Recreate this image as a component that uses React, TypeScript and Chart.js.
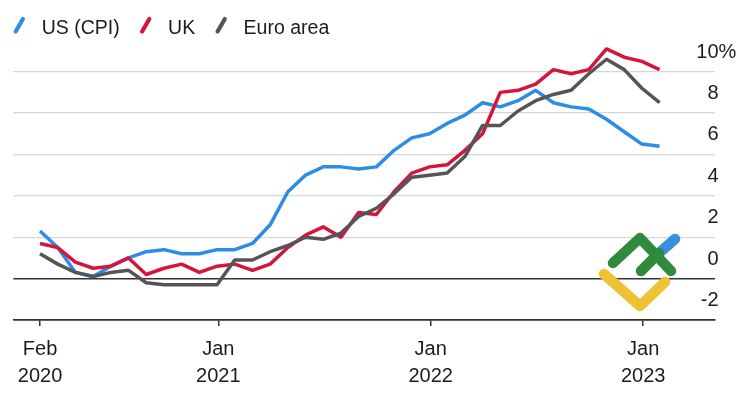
import React, { useEffect, useRef } from "react";
import { Chart, registerables } from "chart.js";

Chart.register(...registerables);

// ---- Data (monthly, year-on-year %, Feb 2020 – Jan 2023) ----
const months = [
  "2020-02", "2020-03", "2020-04", "2020-05", "2020-06", "2020-07", "2020-08", "2020-09", "2020-10", "2020-11", "2020-12",
  "2021-01", "2021-02", "2021-03", "2021-04", "2021-05", "2021-06", "2021-07", "2021-08", "2021-09", "2021-10", "2021-11", "2021-12",
  "2022-01", "2022-02", "2022-03", "2022-04", "2022-05", "2022-06", "2022-07", "2022-08", "2022-09", "2022-10", "2022-11", "2022-12",
  "2023-01",
];

const usCpi = [
  2.3, 1.5, 0.3, 0.1, 0.6, 1.0, 1.3, 1.4, 1.2, 1.2, 1.4,
  1.4, 1.7, 2.6, 4.2, 5.0, 5.4, 5.4, 5.3, 5.4, 6.2, 6.8, 7.0,
  7.5, 7.9, 8.5, 8.3, 8.6, 9.1, 8.5, 8.3, 8.2, 7.7, 7.1, 6.5,
  6.4,
];

const ukCpi = [
  1.7, 1.5, 0.8, 0.5, 0.6, 1.0, 0.2, 0.5, 0.7, 0.3, 0.6,
  0.7, 0.4, 0.7, 1.5, 2.1, 2.5, 2.0, 3.2, 3.1, 4.2, 5.1, 5.4,
  5.5, 6.2, 7.0, 9.0, 9.1, 9.4, 10.1, 9.9, 10.1, 11.1, 10.7, 10.5,
  10.1,
];

const euroArea = [
  1.2, 0.7, 0.3, 0.1, 0.3, 0.4, -0.2, -0.3, -0.3, -0.3, -0.3,
  0.9, 0.9, 1.3, 1.6, 2.0, 1.9, 2.2, 3.0, 3.4, 4.1, 4.9, 5.0,
  5.1, 5.9, 7.4, 7.4, 8.1, 8.6, 8.9, 9.1, 9.9, 10.6, 10.1, 9.2,
  8.5,
];

const seriesNames = ["US (CPI)", "UK", "Euro area"];

const xTickMonths = ["2020-02", "2021-01", "2022-01", "2023-01"];
const xTickLabels = [
  ["Feb", "2020"],
  ["Jan", "2021"],
  ["Jan", "2022"],
  ["Jan", "2023"],
];

const yTickValues = [-2, 0, 2, 4, 6, 8, 10];
const yTickLabels = ["-2", "0", "2", "4", "6", "8", "10"];
const yUnit = "%";

// ---- Styles ----
const FONT = '"Liberation Sans", Arial, Helvetica, sans-serif';
const TEXT = "#1c1c1c";
const AXIS = "#333333";
const GRID = "#d6d6d6";
const COLORS = ["#2b8de6", "#d4163c", "#555555"];
const MONTH_END = 0.93; // observations dated at month end

function monthPos(ym: string, frac: number): number {
  const [y, m] = ym.split("-").map(Number);
  return (y - 2020) * 12 + (m - 1) + frac;
}

const xTickValues = xTickMonths.map((m, i) => monthPos(m, i === 0 ? MONTH_END : 0));

function toPoints(vals: number[]) {
  return vals.map((v, i) => ({ x: monthPos(months[i], MONTH_END), y: v }));
}

const decorPlugin = {
  id: "decor",
  afterDraw(chart: any) {
    const ctx = chart.ctx as CanvasRenderingContext2D;
    const area = chart.chartArea;
    const yScale = chart.scales.y;
    ctx.save();

    // y tick labels, sitting above their gridlines on the right
    ctx.font = `20px ${FONT}`;
    ctx.fillStyle = TEXT;
    ctx.textBaseline = "middle";
    yTickValues.forEach((v, i) => {
      const py = yScale.getPixelForValue(v) - 19.5;
      const px = area.right + 3.5;
      ctx.textAlign = "right";
      ctx.fillText(yTickLabels[i], px, py);
      if (i === yTickValues.length - 1) {
        ctx.textAlign = "left";
        ctx.fillText(yUnit, px, py);
      }
    });

    // legend
    ctx.font = `19.5px ${FONT}`;
    ctx.textBaseline = "alphabetic";
    ctx.textAlign = "left";
    let cx = 19.3;
    chart.data.datasets.forEach((ds: any) => {
      ctx.strokeStyle = ds.borderColor;
      ctx.lineWidth = 4.2;
      ctx.lineCap = "round";
      ctx.beginPath();
      ctx.moveTo(cx - 3.6, 31.5);
      ctx.lineTo(cx + 3.6, 19);
      ctx.stroke();
      const tx = cx + 22.4;
      ctx.fillStyle = TEXT;
      ctx.fillText(ds.label, tx, 33.5);
      cx = tx + ctx.measureText(ds.label).width + 26;
    });

    // watermark logo
    ctx.lineCap = "round";
    ctx.lineJoin = "round";
    ctx.lineWidth = 10.5;
    ctx.strokeStyle = "#f0c132";
    ctx.beginPath();
    ctx.moveTo(604, 274);
    ctx.lineTo(640, 306);
    ctx.lineTo(665, 282);
    ctx.stroke();
    ctx.strokeStyle = "#3a90e0";
    ctx.beginPath();
    ctx.moveTo(658, 254);
    ctx.lineTo(675, 239);
    ctx.stroke();
    ctx.strokeStyle = "#2f8a3b";
    ctx.beginPath();
    ctx.moveTo(613, 263);
    ctx.lineTo(640, 238);
    ctx.lineTo(671, 271);
    ctx.stroke();
    ctx.beginPath();
    ctx.moveTo(641, 271);
    ctx.lineTo(659, 253);
    ctx.stroke();

    ctx.restore();
  },
};

export default function App() {
  const ref = useRef<HTMLCanvasElement>(null);

  useEffect(() => {
    if (!ref.current) return;
    const seriesData = [usCpi, ukCpi, euroArea];
    const chart = new Chart(ref.current, {
      type: "line",
      data: {
        datasets: seriesData.map((vals, i) => ({
          label: seriesNames[i],
          data: toPoints(vals),
          borderColor: COLORS[i],
          backgroundColor: COLORS[i],
          borderWidth: 3.5,
          pointRadius: 0,
          tension: 0,
          borderJoinStyle: "round" as const,
          borderCapStyle: "butt" as const,
          order: 2 - i,
        })),
      },
      options: {
        animation: false,
        responsive: false,
        devicePixelRatio: 1,
        events: [],
        layout: { padding: { left: 13.3, right: 28, top: 30.3, bottom: 0 } },
        plugins: {
          legend: { display: false },
          tooltip: { enabled: false },
        },
        scales: {
          x: {
            type: "linear",
            min: 0.42,
            max: 40.06,
            afterBuildTicks: (s: any) => {
              s.ticks = xTickValues.map((v) => ({ value: v }));
            },
            afterFit: (s: any) => {
              s.height = 82;
              s.paddingLeft = 0;
              s.paddingRight = 0;
            },
            grid: {
              drawOnChartArea: false,
              drawTicks: true,
              tickLength: 6,
              color: AXIS,
              lineWidth: 1.5,
            },
            border: { display: true, color: AXIS, width: 1.5 },
            ticks: {
              autoSkip: false,
              maxRotation: 0,
              minRotation: 0,
              padding: 10,
              color: TEXT,
              font: { family: FONT, size: 20, lineHeight: 1.35 },
              callback: (_v: any, i: number) => xTickLabels[i],
            },
          },
          y: {
            type: "linear",
            position: "right",
            min: -2,
            max: 12,
            afterBuildTicks: (s: any) => {
              s.ticks = yTickValues.map((v) => ({ value: v }));
            },
            afterFit: (s: any) => {
              s.width = 0;
            },
            grid: {
              drawTicks: false,
              color: (c: any) => (c.tick && c.tick.value <= 0 ? AXIS : GRID),
              lineWidth: (c: any) => (c.tick && c.tick.value <= 0 ? 1.5 : 1.2),
            },
            border: { display: false },
            ticks: { display: false },
          },
        },
      },
      plugins: [decorPlugin],
    });
    return () => chart.destroy();
  }, []);

  return (
    <div style={{ position: "fixed", left: 0, top: 0, width: 743, height: 402, background: "#fff" }}>
      <canvas ref={ref} width={743} height={402} style={{ display: "block" }} />
    </div>
  );
}
